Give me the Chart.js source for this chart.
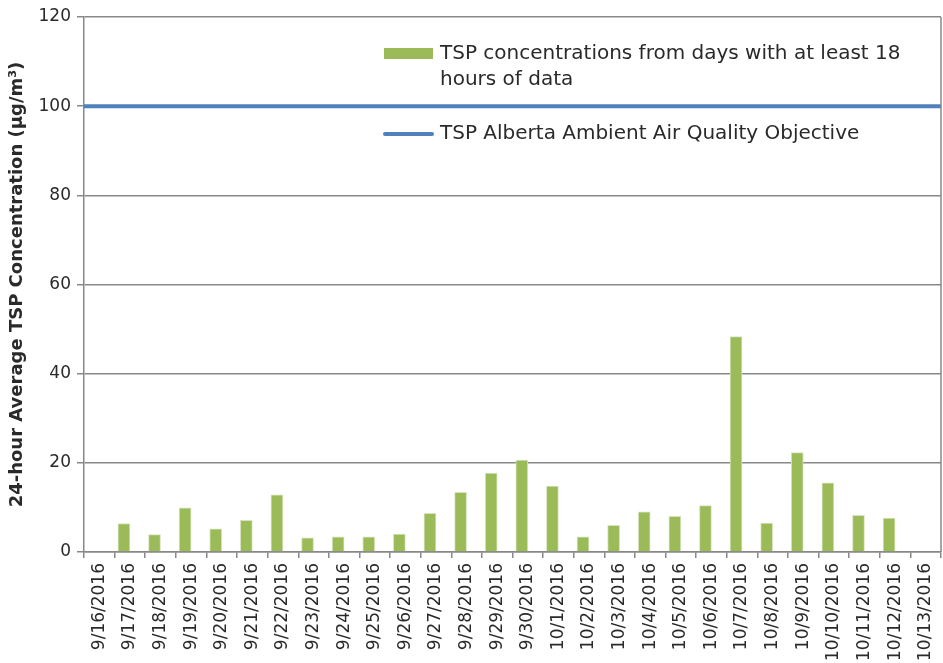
<!DOCTYPE html>
<html>
<head>
<meta charset="utf-8">
<script src="https://cdn.jsdelivr.net/npm/chart.js@4.4.1/dist/chart.umd.min.js"></script>
<style>
html,body{margin:0;padding:0;background:#fff;}
#wrap{width:943px;height:663px;position:relative;}
</style>
</head>
<body>
<div id="wrap"><canvas id="c" width="943" height="663"></canvas></div>
<script>
const categories = ["9/16/2016","9/17/2016","9/18/2016","9/19/2016","9/20/2016","9/21/2016","9/22/2016","9/23/2016","9/24/2016","9/25/2016","9/26/2016","9/27/2016","9/28/2016","9/29/2016","9/30/2016","10/1/2016","10/2/2016","10/3/2016","10/4/2016","10/5/2016","10/6/2016","10/7/2016","10/8/2016","10/9/2016","10/10/2016","10/11/2016","10/12/2016","10/13/2016"];
const tspValues = [null,6.4,3.9,9.9,5.2,7.1,12.8,3.2,3.4,3.4,4.0,8.7,13.4,17.7,20.6,14.8,3.4,6.0,9.0,8.0,10.4,48.3,6.5,22.3,15.5,8.2,7.6,null];
const objectiveValue = 100;
const yTicks = [0,20,40,60,80,100,120];
const seriesLabels = ["TSP concentrations from days with at least 18 hours of data","TSP Alberta Ambient Air Quality Objective"];

const FONT = "'DejaVu Sans', sans-serif";
const GRID = '#888888';
const TEXT = '#2a2a2a';

const legendPlugin = {
  id: 'customLegend',
  afterDraw(chart) {
    const ctx = chart.ctx;
    const ds = chart.data.datasets;
    ctx.save();
    ctx.font = "20px " + FONT;
    ctx.fillStyle = TEXT;
    ctx.textBaseline = 'middle';
    ctx.textAlign = 'left';
    ctx.fillStyle = ds[0].backgroundColor;
    ctx.fillRect(384, 48, 49, 11);
    ctx.fillStyle = TEXT;
    ctx.fillText("TSP concentrations from days with at least 18", 440, 54);
    ctx.fillText("hours of data", 440, 80);
    ctx.strokeStyle = ds[1].borderColor;
    ctx.lineWidth = 4;
    ctx.lineCap = 'round';
    ctx.beginPath();
    ctx.moveTo(385, 134);
    ctx.lineTo(432, 134);
    ctx.stroke();
    ctx.fillText(ds[1].label, 440, 134);
    const a = chart.chartArea;
    ctx.strokeStyle = GRID;
    ctx.lineWidth = 1.5;
    ctx.lineCap = 'butt';
    ctx.beginPath();
    ctx.moveTo(a.right, a.top);
    ctx.lineTo(a.right, a.bottom);
    ctx.stroke();
    ctx.restore();
  }
};

new Chart(document.getElementById('c'), {
  data: {
    labels: categories,
    datasets: [
      {
        type: 'bar',
        label: seriesLabels[0],
        data: tspValues,
        backgroundColor: '#9BBB59',
        borderColor: '#D7E4BD',
        borderWidth: {left:1,right:1,top:1,bottom:0},
        barThickness: 12,
        xAxisID: 'x',
        order: 2
      },
      {
        type: 'line',
        label: seriesLabels[1],
        data: [{x:0,y:objectiveValue},{x:1,y:objectiveValue}],
        borderColor: '#4F81BD',
        borderWidth: 4,
        pointRadius: 0,
        xAxisID: 'xl',
        order: 1
      }
    ]
  },
  options: {
    responsive: false,
    animation: false,
    devicePixelRatio: 1,
    layout: { padding: { top: 17, right: 2, left: 0, bottom: 0 } },
    plugins: { legend: { display: false }, tooltip: { enabled: false } },
    scales: {
      x: {
        type: 'category',
        offset: true,
        grid: { display: true, drawOnChartArea: false, offset: true, color: GRID, lineWidth: 1.5, tickLength: 6 },
        border: { color: GRID, width: 1.5 },
        ticks: { minRotation: 90, maxRotation: 90, autoSkip: false, color: TEXT, font: { family: FONT, size: 17 }, padding: 5 },
        afterFit(s) { s.height = 111; s.paddingLeft = 0; s.paddingRight = 0; }
      },
      xl: {
        type: 'linear', display: false, min: 0, max: 1
      },
      y: {
        min: 0, max: 120,
        afterBuildTicks(s) { s.ticks = yTicks.map(v => ({ value: v })); },
        grid: { color: GRID, lineWidth: 1.5, tickLength: 7 },
        border: { color: GRID, width: 1.5 },
        ticks: { color: TEXT, font: { family: FONT, size: 17 }, padding: 6 },
        title: { display: true, text: '24-hour Average TSP Concentration (µg/m³)', color: TEXT, font: { family: FONT, size: 18, weight: 'bold' }, padding: { top: 7, bottom: 0 } },
        afterFit(s) { s.width = 84; }
      }
    }
  },
  plugins: [legendPlugin]
});
</script>
</body>
</html>
